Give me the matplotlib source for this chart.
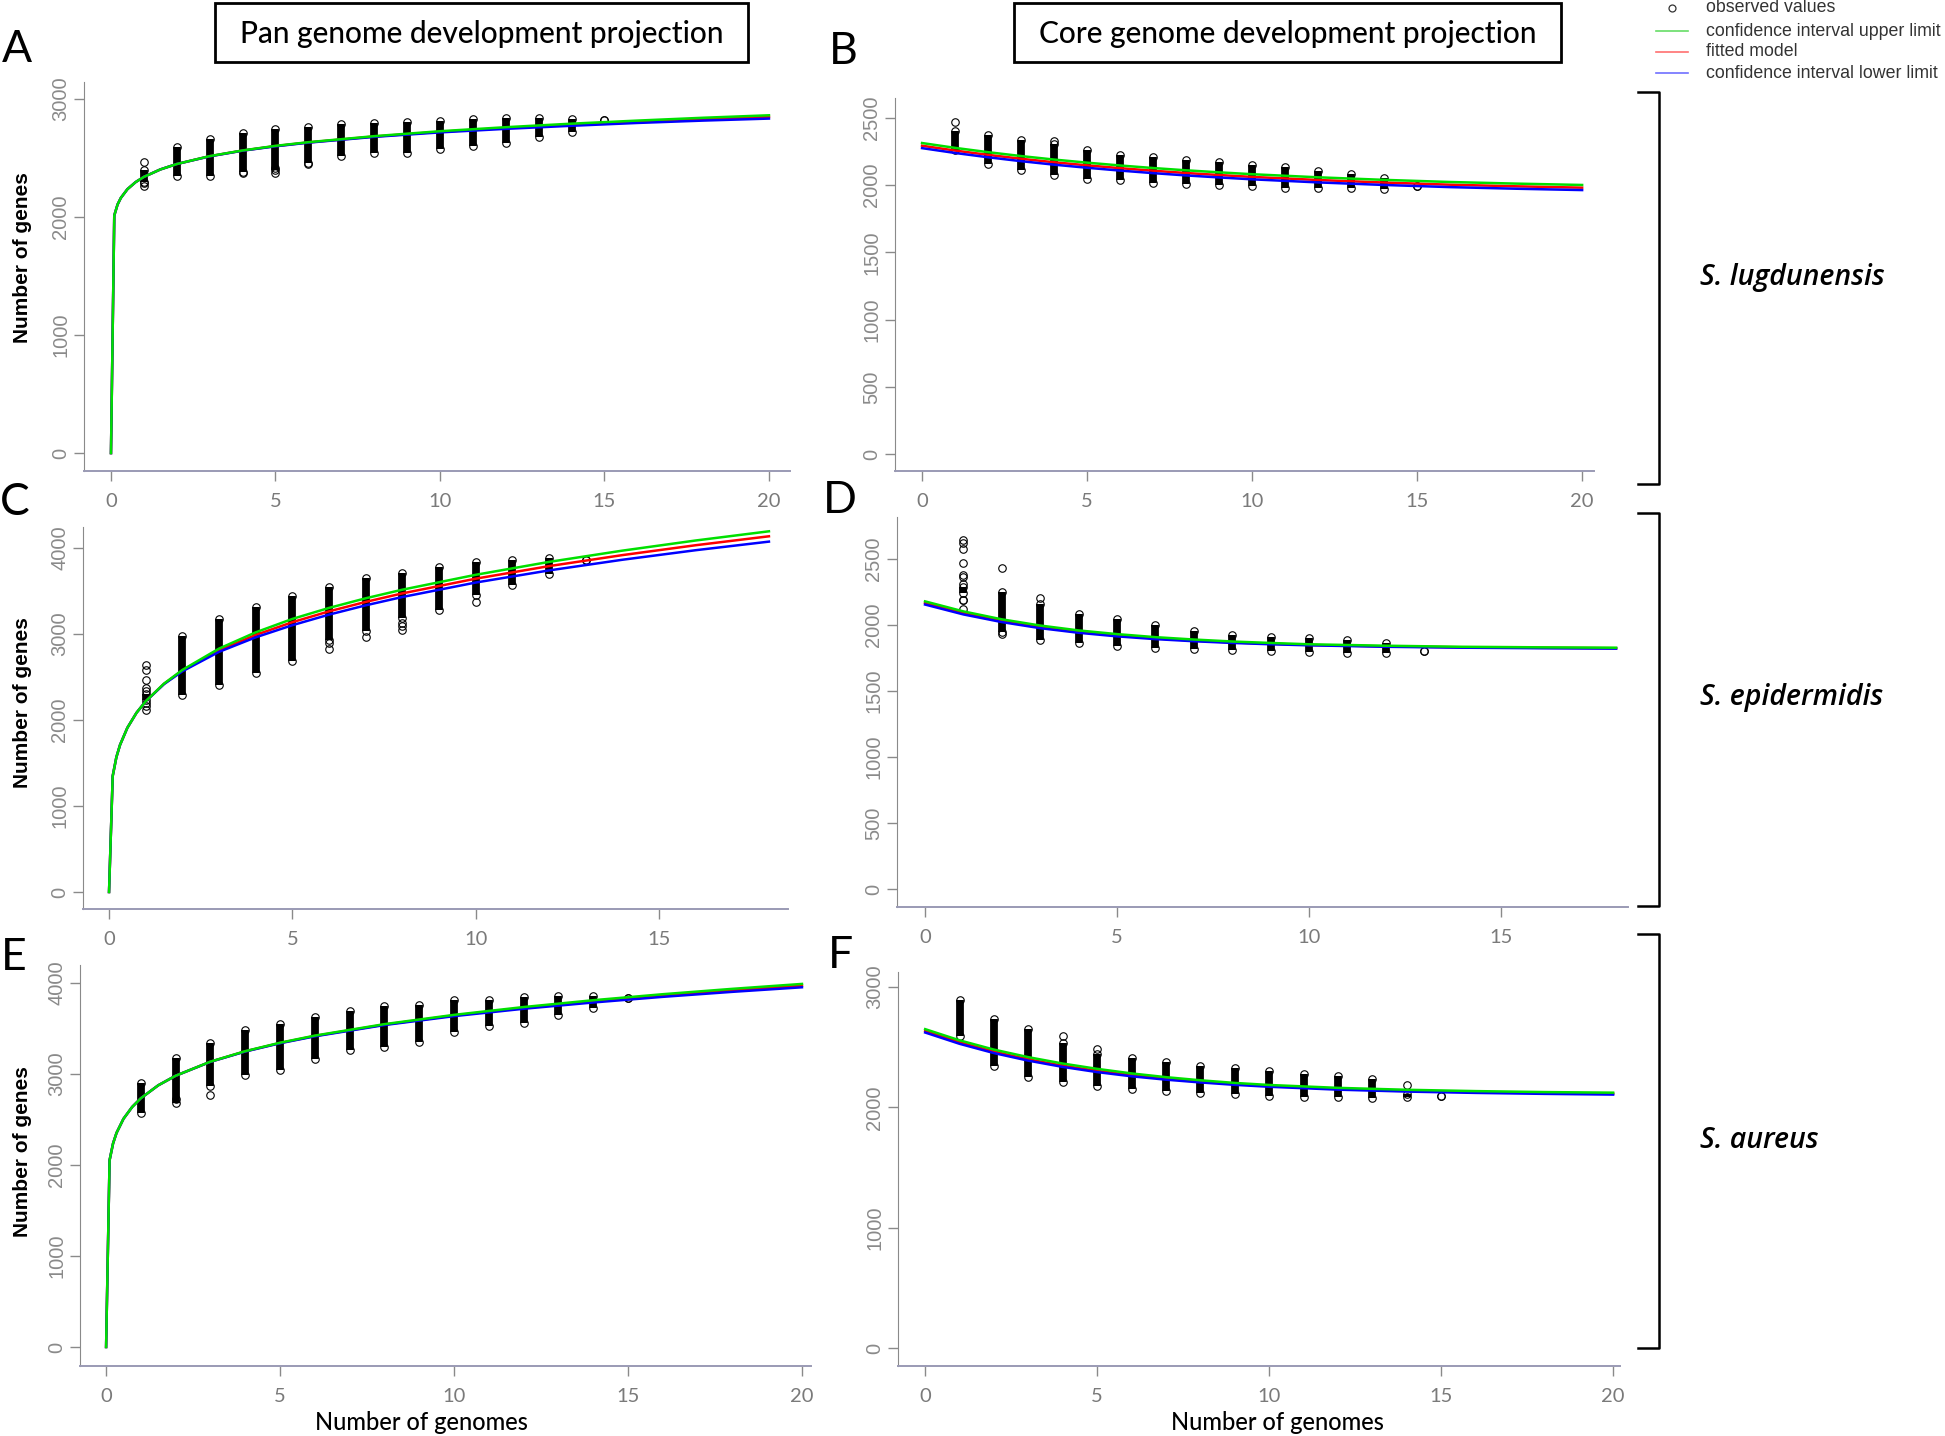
import matplotlib
matplotlib.use("Agg")
import matplotlib.pyplot as plt
from matplotlib.lines import Line2D
from matplotlib.patches import Rectangle

# observed values: dense band per number of genomes (lo..hi) + scattered circles
A_x = list(range(1, 16))
A_lo = [2300, 2345, 2345, 2380, 2400, 2460, 2515, 2545, 2545, 2575, 2600, 2625, 2680, 2720, 2825]
A_hi = [2400, 2590, 2665, 2715, 2745, 2760, 2790, 2795, 2805, 2815, 2830, 2835, 2835, 2830, 2825]
A_out_x = [1, 1, 1, 4, 5, 5, 6]
A_out_y = [2466, 2262, 2290, 2372, 2372, 2415, 2452]

B_x = list(range(1, 16))
B_lo = [2265, 2156, 2111, 2074, 2049, 2042, 2020, 2007, 2002, 1992, 1982, 1980, 1978, 1970, 1997]
B_hi = [2400, 2371, 2339, 2310, 2260, 2223, 2210, 2190, 2171, 2151, 2136, 2106, 2086, 2054, 1997]
B_out_x = [1, 4]
B_out_y = [2468, 2327]

C_x = list(range(1, 14))
C_lo = [2230, 2295, 2411, 2547, 2682, 2934, 3031, 3186, 3283, 3457, 3574, 3702, 3864]
C_hi = [2300, 2973, 3174, 3310, 3438, 3543, 3651, 3709, 3775, 3833, 3857, 3880, 3864]
C_out_x = [1, 1, 1, 1, 1, 1, 1, 1, 6, 6, 7, 8, 8, 8, 10]
C_out_y = [2112, 2160, 2198, 2333, 2372, 2469, 2585, 2643, 2895, 2826, 2965, 3128, 3089, 3043, 3372]

D_x = list(range(1, 14))
D_lo = [2240, 1948, 1885, 1860, 1842, 1827, 1817, 1814, 1804, 1797, 1789, 1789, 1802]
D_hi = [2290, 2250, 2162, 2087, 2049, 1998, 1953, 1928, 1910, 1898, 1885, 1860, 1802]
D_out_x = [1, 1, 1, 1, 1, 1, 1, 1, 1, 1, 2, 2, 3]
D_out_y = [2641, 2621, 2578, 2470, 2376, 2365, 2308, 2192, 2187, 2124, 2429, 1930, 2205]

E_x = list(range(1, 16))
E_lo = [2569, 2679, 2863, 2984, 3046, 3164, 3259, 3296, 3347, 3461, 3523, 3560, 3652, 3725, 3835]
E_hi = [2899, 3175, 3340, 3479, 3549, 3626, 3688, 3743, 3762, 3817, 3817, 3846, 3854, 3861, 3835]
E_out_x = [3, 2]
E_out_y = [2771, 2730]

F_x = list(range(1, 16))
F_lo = [2595, 2345, 2256, 2214, 2181, 2151, 2140, 2123, 2112, 2098, 2090, 2084, 2076, 2090, 2098]
F_hi = [2889, 2733, 2650, 2534, 2445, 2409, 2373, 2345, 2325, 2298, 2278, 2262, 2234, 2112, 2098]
F_out_x = [4, 5, 14]
F_out_y = [2589, 2486, 2187]

# fitted model and confidence interval limits
A_fx = [0, 0.1, 0.2, 0.3, 0.5, 0.75, 1, 1.5, 2, 3, 4, 5, 6, 8, 10, 12, 14, 16, 18, 20]
A_fit = [0, 2013, 2106, 2162, 2236, 2296, 2340, 2403, 2449, 2515, 2563, 2601, 2632, 2682, 2722, 2754, 2782, 2807, 2829, 2848]
A_up = [0, 2013, 2106, 2162, 2236, 2296, 2340, 2403, 2449, 2516, 2564, 2603, 2634, 2685, 2727, 2761, 2791, 2817, 2841, 2862]
A_low = [0, 2013, 2106, 2162, 2236, 2296, 2340, 2403, 2449, 2514, 2562, 2599, 2630, 2679, 2717, 2747, 2773, 2797, 2817, 2834]

B_fx = [0, 1, 2, 3, 4, 5, 6, 7, 8, 9, 10, 12, 14, 16, 18, 20]
B_fit = [2294, 2258, 2226, 2197, 2171, 2148, 2127, 2108, 2091, 2076, 2062, 2039, 2020, 2004, 1992, 1982]
B_up = [2314, 2278, 2246, 2217, 2191, 2168, 2147, 2128, 2111, 2096, 2082, 2059, 2040, 2024, 2012, 2002]
B_low = [2276, 2240, 2208, 2179, 2153, 2130, 2109, 2090, 2073, 2058, 2044, 2021, 2002, 1986, 1974, 1964]

C_fx = [0, 0.1, 0.2, 0.3, 0.5, 0.75, 1, 1.5, 2, 3, 4, 5, 6, 7, 8, 10, 12, 14, 16, 18]
C_fit = [0, 1348, 1567, 1710, 1909, 2084, 2217, 2420, 2574, 2810, 2989, 3137, 3263, 3373, 3472, 3643, 3789, 3917, 4032, 4136]
C_up = [0, 1348, 1567, 1710, 1909, 2084, 2217, 2423, 2582, 2830, 3019, 3175, 3303, 3415, 3515, 3688, 3838, 3969, 4087, 4194]
C_low = [0, 1348, 1567, 1710, 1909, 2084, 2217, 2417, 2566, 2792, 2961, 3102, 3225, 3333, 3430, 3598, 3739, 3863, 3974, 4074]

D_fx = [0, 1, 2, 3, 4, 5, 6, 7, 8, 9, 10, 12, 14, 16, 18]
D_fit = [2167, 2091, 2032, 1985, 1949, 1921, 1899, 1882, 1868, 1858, 1849, 1838, 1831, 1827, 1824]
D_up = [2179, 2103, 2043, 1996, 1959, 1931, 1908, 1890, 1875, 1864, 1854, 1843, 1835, 1831, 1828]
D_low = [2155, 2080, 2022, 1976, 1941, 1914, 1893, 1877, 1864, 1854, 1846, 1835, 1828, 1824, 1821]

E_fx = [0, 0.1, 0.2, 0.3, 0.5, 0.75, 1, 1.5, 2, 3, 4, 5, 6, 8, 10, 12, 14, 16, 18, 20]
E_fit = [0, 2052, 2237, 2353, 2508, 2638, 2734, 2876, 2981, 3135, 3249, 3341, 3418, 3543, 3643, 3726, 3798, 3862, 3919, 3971]
E_up = [0, 2052, 2237, 2353, 2508, 2638, 2734, 2876, 2981, 3136, 3251, 3344, 3422, 3548, 3650, 3736, 3811, 3877, 3936, 3990]
E_low = [0, 2052, 2237, 2353, 2508, 2638, 2734, 2876, 2981, 3134, 3247, 3338, 3414, 3538, 3636, 3717, 3786, 3848, 3903, 3953]

F_fx = [0, 1, 2, 3, 4, 5, 6, 7, 8, 9, 10, 12, 14, 16, 18, 20]
F_fit = [2636, 2541, 2463, 2399, 2346, 2303, 2267, 2238, 2214, 2194, 2178, 2154, 2138, 2127, 2119, 2114]
F_up = [2650, 2557, 2480, 2417, 2364, 2320, 2282, 2251, 2225, 2203, 2186, 2162, 2146, 2135, 2127, 2122]
F_low = [2622, 2528, 2451, 2388, 2336, 2293, 2258, 2230, 2207, 2187, 2171, 2147, 2131, 2120, 2112, 2106]

species = ["S. lugdunensis", "S. epidermidis", "S. aureus"]
letters = ["A", "B", "C", "D", "E", "F"]
legend_labels = ["observed values", "confidence interval upper limit",
                 "fitted model", "confidence interval lower limit"]

W, H = 1945, 1436
fig = plt.figure(figsize=(W / 100, H / 100), dpi=100)


def fx(x):
    return x / W


def fy(y):
    return 1 - y / H


def px_axes(l, t, r, b):
    return fig.add_axes([fx(l), fy(b), (r - l) / W, (b - t) / H])


panels = [
    dict(box=(84, 82, 790, 471), xlim=(-0.82, 20.64), ylim=(-152, 3144),
         xt=[0, 5, 10, 15, 20], yt=[0, 1000, 2000, 3000],
         obs=(A_x, A_lo, A_hi, A_out_x, A_out_y), fit=(A_fx, A_fit, A_low, A_up)),
    dict(box=(895, 98, 1594, 471), xlim=(-0.82, 20.36), ylim=(-126, 2649),
         xt=[0, 5, 10, 15, 20], yt=[0, 500, 1000, 1500, 2000, 2500],
         obs=(B_x, B_lo, B_hi, B_out_x, B_out_y), fit=(B_fx, B_fit, B_low, B_up)),
    dict(box=(83, 527, 788, 909), xlim=(-0.71, 18.52), ylim=(-198, 4244),
         xt=[0, 5, 10, 15], yt=[0, 1000, 2000, 3000, 4000],
         obs=(C_x, C_lo, C_hi, C_out_x, C_out_y), fit=(C_fx, C_fit, C_low, C_up)),
    dict(box=(897, 517, 1628, 907), xlim=(-0.73, 18.31), ylim=(-136, 2818),
         xt=[0, 5, 10, 15], yt=[0, 500, 1000, 1500, 2000, 2500],
         obs=(D_x, D_lo, D_hi, D_out_x, D_out_y), fit=(D_fx, D_fit, D_low, D_up)),
    dict(box=(80, 965, 811, 1366), xlim=(-0.75, 20.26), ylim=(-209, 4198),
         xt=[0, 5, 10, 15, 20], yt=[0, 1000, 2000, 3000, 4000],
         obs=(E_x, E_lo, E_hi, E_out_x, E_out_y), fit=(E_fx, E_fit, E_low, E_up)),
    dict(box=(898, 972, 1620, 1366), xlim=(-0.79, 20.2), ylim=(-150, 3125),
         xt=[0, 5, 10, 15, 20], yt=[0, 1000, 2000, 3000],
         obs=(F_x, F_lo, F_hi, F_out_x, F_out_y), fit=(F_fx, F_fit, F_low, F_up)),
]

for p in panels:
    ax = px_axes(*p["box"])
    ax.patch.set_alpha(0)
    ax.set_xlim(*p["xlim"])
    ax.set_ylim(*p["ylim"])
    for s in ["top", "right"]:
        ax.spines[s].set_visible(False)
    ax.spines["left"].set_color("#8a8a8a")
    ax.spines["bottom"].set_color("#9a9ab4")
    ax.spines["bottom"].set_linewidth(1.4)
    ax.set_xticks(p["xt"])
    ax.set_yticks(p["yt"])
    ax.tick_params(direction="out", length=7, width=1, color="#8a8a8a")
    ax.tick_params(axis="x", pad=9, labelsize=14.5, labelcolor="#7a7a7a")
    ax.tick_params(axis="y", pad=3, labelsize=14.5, labelcolor="#8a8a8a")
    for lab in ax.get_yticklabels():
        lab.set_rotation(90)
        lab.set_va("center")
        lab.set_family("Liberation Sans")
    for lab in ax.get_xticklabels():
        lab.set_family("Lato")

    x, lo, hi, ox, oy = p["obs"]
    vl = ax.vlines(x, lo, hi, color="black", lw=5.6)
    vl.set_capstyle("butt")
    ax.plot(list(x) + list(x) + list(ox), list(lo) + list(hi) + list(oy), "o",
            mfc="none", mec="black", ms=5.4, mew=0.8, ls="none")

    gx, fit, low, up = p["fit"]
    ax.plot(gx, fit, color="#ff0000", lw=1.8)
    ax.plot(gx, low, color="#0000ff", lw=1.8)
    ax.plot(gx, up, color="#00e000", lw=1.8)

# column titles
for (l, t, r, b), txt in [((215, 3, 748, 62), "Pan genome development projection"),
                          ((1014, 3, 1561, 62), "Core genome development projection")]:
    fig.add_artist(Rectangle((fx(l), fy(b)), (r - l) / W, (b - t) / H, fill=False,
                             ec="black", lw=2, transform=fig.transFigure))
    fig.text(fx((l + r) / 2), fy((t + b) / 2 + 1), txt, ha="center", va="center",
             fontsize=21.5, family="Lato", fontweight="medium")

# panel letters
for let, (x, y) in zip(letters, [(17, 50), (843, 52), (15, 502), (840, 500), (14, 957), (840, 956)]):
    fig.text(fx(x), fy(y), let, ha="center", va="center", fontsize=32, family="Lato")

# axis labels
for y in [258, 703, 1152]:
    fig.text(fx(23), fy(y), "Number of genes", rotation=90, ha="center", va="center",
             fontsize=15, family="Liberation Sans", fontweight="bold")
for x in [421, 1277]:
    fig.text(fx(x), fy(1423), "Number of genomes", ha="center", va="center",
             fontsize=17, family="Lato", fontweight="medium")

# brackets and species names
for (t, b), name, yc in zip([(92, 484), (513, 906), (934, 1348)], species, [277, 697, 1141]):
    fig.add_artist(Line2D([fx(1638), fx(1659), fx(1659), fx(1638)],
                          [fy(t), fy(t), fy(b), fy(b)], color="black", lw=1.8,
                          transform=fig.transFigure))
    fig.text(fx(1700), fy(yc), name, ha="left", va="center", fontsize=20.5,
             family="Open Sans", style="italic", fontweight="semibold")

# legend
fig.add_artist(Line2D([fx(1672)], [fy(8)], marker="o", mfc="none", mec="#333333",
                      ms=5, mew=0.9, transform=fig.transFigure))
for y, c in zip([31, 52, 73], ["#66dd66", "#ff7070", "#7070ff"]):
    fig.add_artist(Line2D([fx(1656), fx(1688)], [fy(y), fy(y)], color=c, lw=1.2,
                          transform=fig.transFigure))
for y, txt in zip([8, 31, 52, 73], legend_labels):
    fig.text(fx(1706), fy(y), txt, ha="left", va="center", fontsize=12.8,
             family="Liberation Sans", color="#333333")

fig.savefig("out.png", dpi=100)
